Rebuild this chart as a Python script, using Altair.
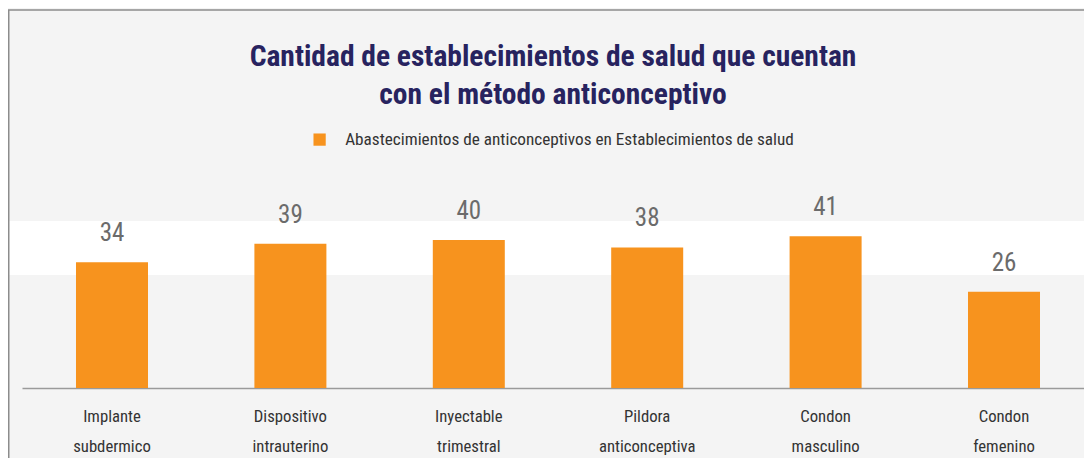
import altair as alt
import pandas as pd

categorias = ["Implante subdermico", "Dispositivo intrauterino", "Inyectable trimestral",
              "Pildora anticonceptiva", "Condon masculino", "Condon femenino"]
valores = [34, 39, 40, 38, 41, 26]
serie = "Abastecimientos de anticonceptivos en Establecimientos de salud"
titulo = ["Cantidad de establecimientos de salud que cuentan", "con el método anticonceptivo"]

df = pd.DataFrame({"categoria": categorias, "valor": valores, "serie": [serie] * len(categorias)})

FONT = "'Roboto Condensed', 'DejaVu Sans Condensed', Roboto, sans-serif"
ORANGE = "#F7931E"

x = alt.X("categoria:N", sort=categorias, title=None,
          scale=alt.Scale(paddingInner=0.5964, paddingOuter=0.27465, align=0.551),
          axis=alt.Axis(labelAngle=0, labelExpr="split(datum.label, ' ')", labelFont=FONT,
                        labelFontSize=16.7, labelColor="#333333", labelLineHeight=30,
                        labelPadding=20, ticks=False, domainColor="#9a9a9a", domainWidth=1.5,
                        labelLimit=0, grid=False))
y = alt.Y("valor:Q", scale=alt.Scale(domain=[0, 50], nice=False), axis=None)

base = alt.Chart(df)
bars = base.mark_bar().encode(
    x=x, y=y,
    color=alt.Color("serie:N", scale=alt.Scale(range=[ORANGE]),
                    legend=alt.Legend(title=None, orient="none", legendX=289, legendY=-72,
                                      symbolType="square", symbolSize=150, symbolStrokeWidth=0,
                                      labelFont=FONT, labelFontSize=17.2, labelColor="#333333",
                                      labelOffset=17, labelLimit=0)),
)
labels = base.mark_text(baseline="alphabetic", dy=-21, font=FONT, fontSize=25, color="#6b6b6b").encode(
    x=alt.X("categoria:N", sort=categorias), y=y, text="valor:Q")

one = alt.Data(values=[{}])
band = alt.Chart(one).mark_rect(color="white").encode(
    x=alt.value(-14), x2=alt.value(1062), y=alt.value(18), y2=alt.value(72))
top_rule = alt.Chart(one).mark_rule(color="#8c8c8c", strokeWidth=1.5).encode(
    x=alt.value(-14), x2=alt.value(1062), y=alt.value(-193))
left_rule = alt.Chart(one).mark_rule(color="#8c8c8c", strokeWidth=1.5).encode(
    x=alt.value(-13.25), y=alt.value(-193), y2=alt.value(272))

chart = alt.layer(band, top_rule, left_rule, bars, labels).properties(
    width=1062, height=185,
    autosize=alt.AutoSizeParams(type="none"),
    padding={"left": 14, "top": 195, "right": 0, "bottom": 70},
    background="#f4f4f4",
    title=alt.TitleParams(text=titulo, font=FONT, fontSize=29.5, fontWeight="bold",
                          color="#27235f", anchor="middle", lineHeight=38,
                          baseline="alphabetic", offset=-124, frame="group"),
).configure_view(strokeWidth=0)

chart.save("out.html", embed_options={"renderer": "svg", "actions": False})
